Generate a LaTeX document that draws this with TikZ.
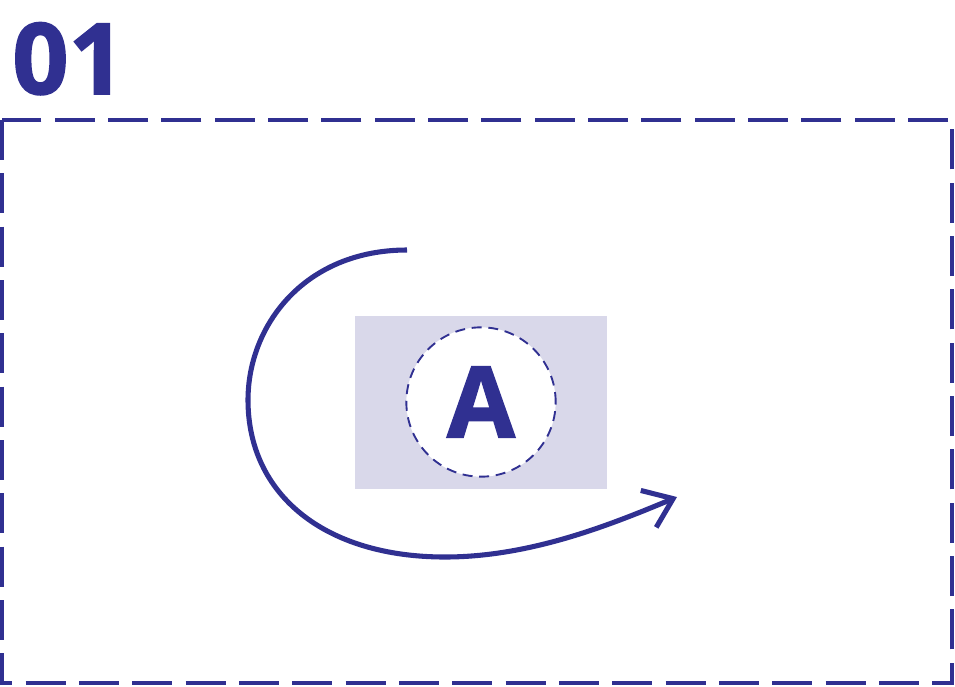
\documentclass[tikz,border=0pt]{standalone}
\usepackage{fontspec}
\setmainfont{Open Sans}
\newfontfamily\heavy[FakeBold=1.6]{Open Sans}
\usetikzlibrary{arrows.meta}
\definecolor{ink}{RGB}{48,48,145}
\definecolor{lilac}{RGB}{217,216,234}
\begin{document}
\begin{tikzpicture}[x=0.75pt,y=-0.75pt,
  frame/.style={draw=ink,line width=3.6pt,dash pattern=on 30pt off 10pt},
  badge/.style={circle,draw=ink,fill=white,line width=1.4pt,dash pattern=on 7.5pt off 5pt,minimum size=112pt,inner sep=0pt},
  turn/.style={draw=ink,line width=3.8pt,-{Straight Barb[length=20pt,width=30pt,line width=3.8pt]}}]
\useasboundingbox (0,0) rectangle (955,686);
\draw[frame] (2,120) rectangle (952,683);
\node[anchor=base west,inner sep=0pt,text=ink,font=\fontsize{74}{74}\selectfont\heavy\bfseries] (num) at (12,94) {01};

\fill[lilac] (355,316) rectangle (607,489);
\node[badge] (ring) at (481,402) {};
\node[text=ink,font=\fontsize{74}{74}\selectfont\heavy\bfseries] (letter) at (481,402) {A};

\coordinate (start) at (407,250);
\coordinate (tip) at (677,497);
\draw[turn] (start) .. controls (305,250) and (248,325) .. (248,400)
  .. controls (248,495) and (325,557) .. (445,557)
  .. controls (530,557) and (610,525) .. (tip);
\end{tikzpicture}
\end{document}
